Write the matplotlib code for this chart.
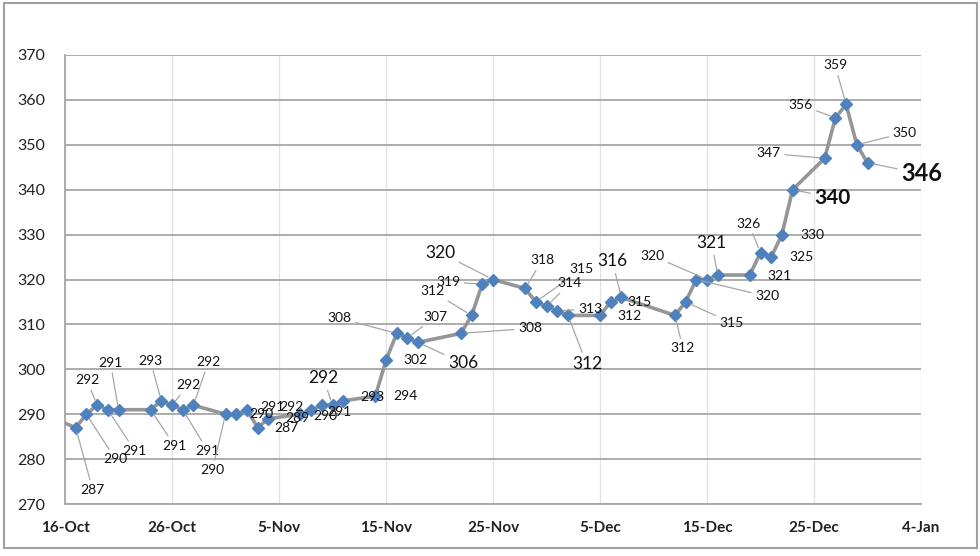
import matplotlib
matplotlib.use("Agg")
import matplotlib.pyplot as plt
import pandas as pd
from matplotlib.patches import Rectangle

plt.rcParams['font.family'] = ['Lato', 'DejaVu Sans']

# ---- data ----
dates = ["2022-10-15", "2022-10-17", "2022-10-18", "2022-10-19", "2022-10-20", "2022-10-21",
         "2022-10-24", "2022-10-25", "2022-10-26", "2022-10-27", "2022-10-28", "2022-10-31",
         "2022-11-01", "2022-11-02", "2022-11-03", "2022-11-04", "2022-11-07", "2022-11-08",
         "2022-11-09", "2022-11-10", "2022-11-11", "2022-11-14", "2022-11-15", "2022-11-16",
         "2022-11-17", "2022-11-18", "2022-11-22", "2022-11-23", "2022-11-24", "2022-11-25",
         "2022-11-28", "2022-11-29", "2022-11-30", "2022-12-01", "2022-12-02", "2022-12-05",
         "2022-12-06", "2022-12-07", "2022-12-12", "2022-12-13", "2022-12-14", "2022-12-15",
         "2022-12-16", "2022-12-19", "2022-12-20", "2022-12-21", "2022-12-22", "2022-12-23",
         "2022-12-26", "2022-12-27", "2022-12-28", "2022-12-29", "2022-12-30"]
values = [289, 287, 290, 292, 291, 291,
          291, 293, 292, 291, 292, 290,
          290, 291, 287, 289, 290, 291,
          292, 292, 293, 294, 302, 308,
          307, 306, 308, 312, 319, 320,
          318, 315, 314, 313, 312, 312,
          315, 316, 312, 315, 320, 320,
          321, 321, 326, 325, 330, 340,
          347, 356, 359, 350, 346]

x_tick_labels = ["16-Oct", "26-Oct", "5-Nov", "15-Nov", "25-Nov", "5-Dec", "15-Dec", "25-Dec", "4-Jan"]
x_tick_dates = ["2022-10-16", "2022-10-26", "2022-11-05", "2022-11-15", "2022-11-25",
                "2022-12-05", "2022-12-15", "2022-12-25", "2023-01-04"]
y_ticks = [270, 280, 290, 300, 310, 320, 330, 340, 350, 360, 370]

# ---- label layout (offset in pixels from point, style key, leader flag); None = no label ----
label_layout = [None, (17, -62, 'n', 1), (29, -45, 'n', 1), (-10, 25, 'n', 1), (27, -41, 'n', 1), (-8, 47, 'n', 1),
                (24, -36, 'n', 1), (-11, 40, 'n', 1), (16, 20, 'n', 1), (25, -41, 'n', 1), (15, 43, 'n', 1), (-13, -56, 'n', 1),
                (25, 0, 'n', 0), (26, 3, 'n', 0), (29, 0, 'n', 0), (29, 1, 'n', 0), (25, -2, 'n', 0), (28, -2, 'n', 0),
                (-30, -2, 'n', 0), (-9, 27, 'b', 1), (29, 4, 'n', 0), (30, 0, 'n', 0), (29, 0, 'n', 0), (-57, 15, 'n', 1),
                (28, 21, 'n', 1), (45, -21, 'b', 1), (69, 5, 'n', 1), (-39, 24, 'n', 1), (-34, 2, 'n', 1), (-53, 27, 'b', 1),
                (17, 28, 'n', 1), (46, 33, 'n', 1), (23, 23, 'n', 1), (33, 2, 'n', 1), (19, -49, 'b', 1), (30, -1, 'n', 0),
                (29, 0, 'n', 0), (-9, 36, 'b', 1), (8, -33, 'n', 1), (46, -21, 'n', 1), (71, -17, 'n', 1), (-55, 24, 'n', 1),
                (-6, 32, 'b', 1), (30, -1, 'n', 0), (-12, 29, 'n', 1), (30, 0, 'n', 0), (30, 0, 'n', 0), (40, -8, 'B', 1),
                (-56, 5, 'n', 1), (-35, 13, 'n', 1), (-11, 39, 'n', 1), (48, 12, 'n', 1), (54, -11, 'BB', 1)]
label_styles = {'n': dict(fontsize=10, fontweight='normal'),
                'b': dict(fontsize=12.5, fontweight='normal'),
                'B': dict(fontsize=15, fontweight='bold'),
                'BB': dict(fontsize=17, fontweight='bold')}

x = pd.to_datetime(dates)

fig = plt.figure(figsize=(9.8, 5.56), dpi=100)
ax = fig.add_axes([65 / 980, 52 / 556, (921 - 65) / 980, (504 - 55) / 556])

ax.plot(x, values, color='#969696', lw=2.6, solid_joinstyle='round', zorder=3,
        marker='D', markersize=6.5, markerfacecolor='#4F81BD', markeredgecolor='#4F81BD')

ax.set_xlim(pd.Timestamp("2022-10-16"), pd.Timestamp("2023-01-04"))
ax.set_ylim(270, 370)
ax.set_yticks(y_ticks)
ax.set_yticklabels([str(v) for v in y_ticks], fontsize=11.5, color='#222222')
ax.set_xticks(pd.to_datetime(x_tick_dates))
ax.set_xticklabels(x_tick_labels, fontsize=11, fontweight='bold', color='#222222')
ax.tick_params(axis='both', length=0)
ax.tick_params(axis='y', pad=14)
ax.tick_params(axis='x', pad=12)

for t in pd.to_datetime(x_tick_dates):
    ax.axvline(t, color='#E3E3E3', lw=1, zorder=0)
for v in y_ticks:
    ax.axhline(v, color='#A6A6A6', lw=1.3, zorder=1)

for s in ['top', 'right']:
    ax.spines[s].set_visible(False)
for s in ['left', 'bottom']:
    ax.spines[s].set_color('#A6A6A6')
    ax.spines[s].set_linewidth(1.3)

for xi, v, lay in zip(x, values, label_layout):
    if lay is None:
        continue
    dx, dy, st, leader = lay
    ap = dict(arrowstyle='-', color='#A6A6A6', lw=0.9, shrinkA=1, shrinkB=4) if leader else None
    ax.annotate(str(v), xy=(xi, v), xytext=(dx, dy), textcoords='offset pixels',
                ha='center', va='center', color='#111111', arrowprops=ap, zorder=4,
                annotation_clip=False, **label_styles[st])

fig.patches.append(Rectangle((4 / 980, 8 / 556), 973 / 980, 545 / 556, transform=fig.transFigure,
                             fill=False, edgecolor='#A0A0A0', lw=1.5))

fig.savefig("out.png", dpi=100)
